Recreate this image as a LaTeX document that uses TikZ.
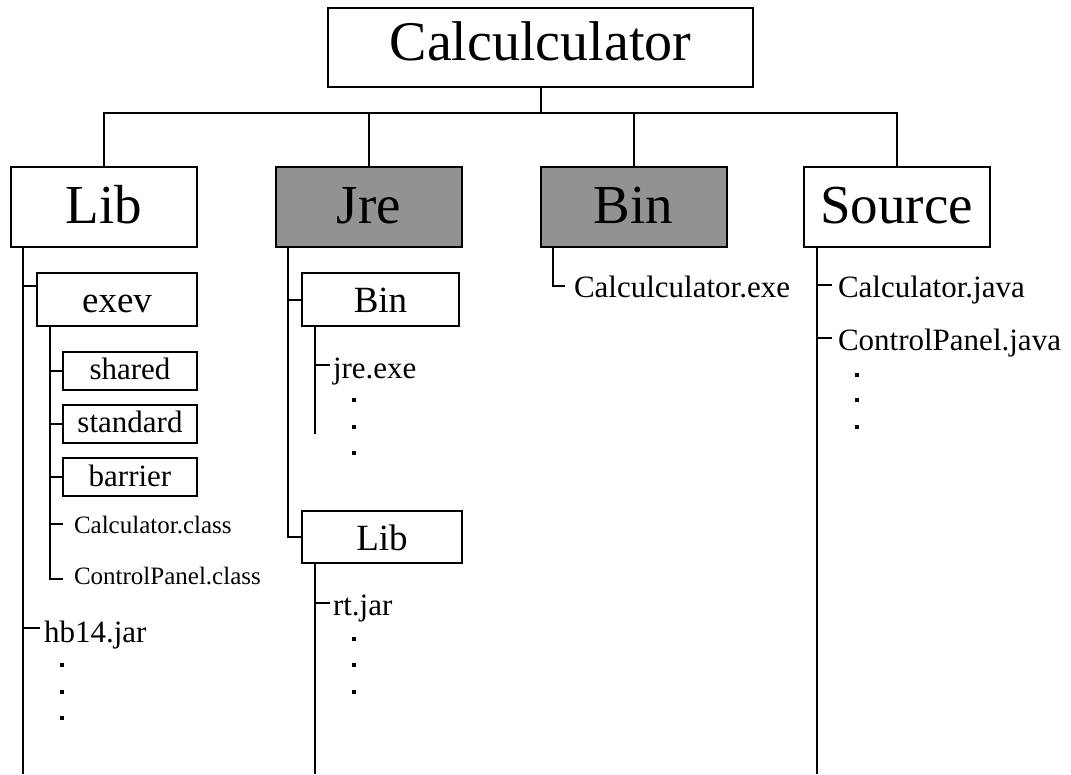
\documentclass[tikz,border=0pt]{standalone}
\usepackage{fontspec}
\setmainfont{Liberation Serif}
\usetikzlibrary{calc}
\definecolor{boxgray}{RGB}{146,146,146}
\begin{document}
\begin{tikzpicture}[x=1pt,y=-1pt,line width=2pt,
  topbox/.style={draw,inner sep=0,minimum width=425pt,minimum height=79pt,
    font=\fontsize{56}{60}\selectfont,text height=38pt,text depth=13pt},
  bigbox/.style={draw,inner sep=0,minimum width=186pt,minimum height=80pt,
    font=\fontsize{55}{60}\selectfont,text height=38pt,text depth=5pt},
  midbox/.style={draw,inner sep=0,minimum height=53pt,
    font=\fontsize{37}{40}\selectfont,text height=26pt,text depth=0pt},
  smallbox/.style={draw,inner sep=0,minimum width=134pt,minimum height=38pt,
    font=\fontsize{31}{34}\selectfont,text height=18pt,text depth=0pt},
  file/.style={anchor=base west,inner sep=0,font=\fontsize{31}{34}\selectfont},
  classfile/.style={anchor=base west,inner sep=0,font=\fontsize{25}{28}\selectfont},
  dotmark/.style={rectangle,fill=black,draw=none,inner sep=0,minimum size=4pt}]
\useasboundingbox (0,0) rectangle (1071,774);
\coordinate (bot) at (0,774);
\coordinate (bus) at (0,113);

% top level
\node[topbox] (calc) at (540.5,47.5) {Calculculator};
\node[bigbox] (lib) at (104,207) {Lib};
\node[bigbox,fill=boxgray] (jre) at (369,207) {Jre};
\node[bigbox,fill=boxgray] (bin) at (633.5,207) {Bin};
\node[bigbox] (src) at (896.5,207) {Source};

\draw (calc.south) -- (calc.south |- bus);
\draw (lib.north) -- (lib.north |- bus) -- (src.north |- bus) -- (src.north);
\draw (jre.north) -- (jre.north |- bus);
\draw (bin.north) -- (bin.north |- bus);

% Lib branch
\coordinate (libv) at ($(lib.south west)+(13,0)$);
\draw (libv) -- (libv |- bot);
\node[midbox,minimum width=160pt] (exev) at (117,299.5) {exev};
\coordinate (exevin) at ($(exev.north west)+(0,13.5)$);
\draw (libv |- exevin) -- (exevin);
\coordinate (exevv) at ($(exev.south west)+(14,0)$);
\node[smallbox] (shared) at (130,370.5) {shared};
\node[smallbox] (standard) at (130,423.5) {standard};
\node[smallbox] (barrier) at (130,477) {barrier};
\draw (exevv |- shared.west) -- (shared.west);
\draw (exevv |- standard.west) -- (standard.west);
\draw (exevv |- barrier.west) -- (barrier.west);
\node[classfile] (cclass) at (73,533) {Calculator.class};
\node[classfile] (cpclass) at (73,584) {ControlPanel.class};
\coordinate (cclasst) at ($(cclass.base west)+(-10,-9)$);
\coordinate (cpclasst) at ($(cpclass.base west)+(-10,-5)$);
\draw (exevv) -- (exevv |- cpclasst) -- (cpclasst);
\draw (exevv |- cclasst) -- (cclasst);
\node[file] (hb) at (43,642) {hb14.jar};
\coordinate (hbt) at ($(hb.base west)+(-3,-14)$);
\draw (libv |- hbt) -- (hbt);
\node[dotmark] (d1) at (62,665) {};
\node[dotmark] (d2) at (62,692) {};
\node[dotmark] (d3) at (62,718) {};

% Jre branch
\coordinate (jrev) at ($(jre.south west)+(13,0)$);
\node[midbox,minimum width=157pt] (jbin) at (380.5,299.5) {Bin};
\node[midbox,minimum width=160pt,minimum height=52pt] (jlib) at (382,537) {Lib};
\draw (jrev) |- (jlib.west);
\draw (jrev |- jbin.west) -- (jbin.west);
\coordinate (jbinv) at ($(jbin.south west)+(14,0)$);
\coordinate (jbinend) at ($(jbinv)+(0,107)$);
\draw (jbinv) -- (jbinend);
\node[file] (jreexe) at (332,378) {jre.exe};
\coordinate (jreexet) at ($(jreexe.base west)+(-2,-13)$);
\draw (jbinv |- jreexet) -- (jreexet);
\node[dotmark] (d4) at (354,400) {};
\node[dotmark] (d5) at (354,427) {};
\node[dotmark] (d6) at (354,453) {};
\coordinate (jlibv) at ($(jlib.south west)+(14,0)$);
\draw (jlibv) -- (jlibv |- bot);
\node[file] (rtjar) at (332,615) {rt.jar};
\coordinate (rtjart) at ($(rtjar.base west)+(-2,-12)$);
\draw (jlibv |- rtjart) -- (rtjart);
\node[dotmark] (d7) at (354,639) {};
\node[dotmark] (d8) at (354,665) {};
\node[dotmark] (d9) at (354,692) {};

% Bin branch
\coordinate (binv) at ($(bin.south west)+(13,0)$);
\node[file] (cexe) at (573,297) {Calculculator.exe};
\coordinate (cexet) at ($(cexe.base west)+(-8,-11)$);
\draw (binv) |- (cexet);

% Source branch
\coordinate (srcv) at ($(src.south west)+(14,0)$);
\draw (srcv) -- (srcv |- bot);
\node[file] (cjava) at (837,297) {Calculator.java};
\node[file] (cpjava) at (837,350) {ControlPanel.java};
\coordinate (cjavat) at ($(cjava.base west)+(-5,-12)$);
\coordinate (cpjavat) at ($(cpjava.base west)+(-5,-12)$);
\draw (srcv |- cjavat) -- (cjavat);
\draw (srcv |- cpjavat) -- (cpjavat);
\node[dotmark] (d10) at (857,375) {};
\node[dotmark] (d11) at (857,400) {};
\node[dotmark] (d12) at (857,427) {};
\end{tikzpicture}
\end{document}
